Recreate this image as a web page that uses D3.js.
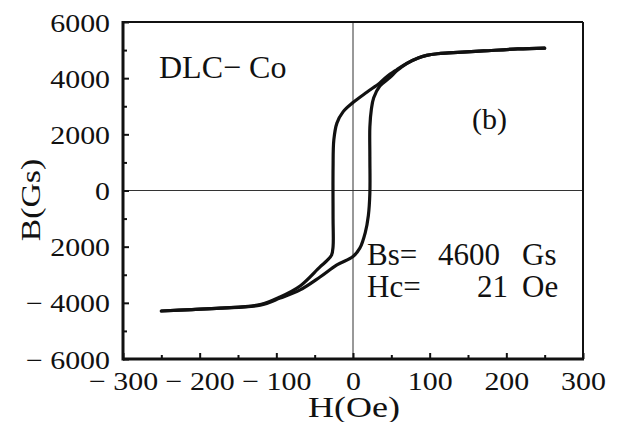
<!DOCTYPE html>
<html>
<head>
<meta charset="utf-8">
<script src="https://cdn.jsdelivr.net/npm/d3@7"></script>
<style>
  body { margin: 0; background: #fff; }
</style>
</head>
<body>
<div id="chart"></div>
<script>
var svgWidth = 620;
var svgHeight = 422;
var fontFam = "'Liberation Serif'";

// tick values and the labels as printed
var xTicks = [-300, -200, -100, 0, 100, 200, 300];
var xTickLabels = ["− 300", "− 200", "− 100", "0", "100", "200", "300"];
var xMinorTicks = [-250, -150, -50, 50, 150, 250];
var yTicks = [-6000, -4000, -2000, 0, 2000, 4000, 6000];
var yTickLabels = ["− 6000", "− 4000", "2000", "0", "2000", "4000", "6000"];
var yMinorTicks = [-5000, -3000, -1000, 1000, 3000, 5000];

// descending branch (H from +250 to -250)
var descH = [250, 215, 170, 125, 110, 96, 85, 70, 57, 44, 35, 18, 0, -13, -21, -25, -26, -26, -26, -28, -34, -43, -69, -95, -121, -173, -210, -250];
var descB = [5070, 5040, 4970, 4900, 4870, 4810, 4720, 4530, 4300, 4050, 3830, 3500, 3130, 2800, 2400, 1800, 800, -1000, -2000, -2300, -2500, -2720, -3400, -3790, -4060, -4190, -4240, -4290];

// ascending branch (H from -250 to +250)
var ascH = [-250, -210, -173, -121, -95, -69, -43, -21, 0, 9, 16, 20, 22, 22, 22, 24, 27, 35, 48, 57, 70, 85, 96, 110, 125, 170, 215, 250];
var ascB = [-4290, -4240, -4190, -4080, -3830, -3540, -3080, -2650, -2350, -2050, -1500, -900, -90, 1200, 2260, 2900, 3300, 3720, 4020, 4260, 4520, 4720, 4810, 4870, 4900, 4970, 5040, 5070];

var x = d3.scaleLinear().domain([-300, 300]).range([123, 583]);
var y = d3.scaleLinear().domain([-6000, 6000]).range([359, 22]);

var svg = d3.select("#chart")
  .append("svg")
  .attr("width", svgWidth)
  .attr("height", svgHeight);

// zero lines
svg.append("line")
  .attr("x1", x(-300)).attr("x2", x(300))
  .attr("y1", y(0)).attr("y2", y(0))
  .attr("stroke", "#333").attr("stroke-width", 1);
svg.append("line")
  .attr("x1", x(0)).attr("x2", x(0))
  .attr("y1", y(6000)).attr("y2", y(-6000))
  .attr("stroke", "#333").attr("stroke-width", 1);

// bottom axis
var xAxisG = svg.append("g")
  .attr("transform", `translate(0, ${y(-6000)})`)
  .call(d3.axisBottom(x).tickValues(xTicks).tickSize(-6)
    .tickFormat((d, i) => xTickLabels[i]));
svg.append("g")
  .attr("transform", `translate(0, ${y(-6000)})`)
  .call(d3.axisBottom(x).tickValues(xMinorTicks).tickSize(-4).tickFormat(""));

// left axis
var yAxisG = svg.append("g")
  .attr("transform", `translate(${x(-300)}, 0)`)
  .call(d3.axisLeft(y).tickValues(yTicks).tickSize(-6)
    .tickFormat((d, i) => yTickLabels[i]));
svg.append("g")
  .attr("transform", `translate(${x(-300)}, 0)`)
  .call(d3.axisLeft(y).tickValues(yMinorTicks).tickSize(-4).tickFormat(""));

// no letter-spacing here: the renderer swaps to a sans font when it is set,
// so the wide print look comes from a horizontal stretch instead
var sx = 1.15;
svg.selectAll("g").attr("font-family", null).attr("font-size", null);
svg.selectAll(".domain").remove();
svg.selectAll(".tick line").attr("stroke", "#111").attr("stroke-width", 2);
svg.selectAll(".tick text")
  .style("font-family", fontFam)
  .style("font-size", "26px")
  .attr("fill", "#111");
xAxisG.selectAll(".tick text")
  .attr("x", 0).attr("y", 31).attr("dy", 0)
  .attr("transform", `scale(${sx},1)`);
yAxisG.selectAll(".tick text")
  .attr("x", -13 / sx).attr("y", 9).attr("dy", 0)
  .attr("transform", `scale(${sx},1)`);

// frame
svg.append("line").attr("x1", x(-300)).attr("x2", x(300)).attr("y1", y(6000)).attr("y2", y(6000))
  .attr("stroke", "#111").attr("stroke-width", 2);
svg.append("line").attr("x1", x(300)).attr("x2", x(300)).attr("y1", y(6000)).attr("y2", y(-6000))
  .attr("stroke", "#111").attr("stroke-width", 2);
svg.append("line").attr("x1", x(-300)).attr("x2", x(-300)).attr("y1", y(6000) - 1).attr("y2", y(-6000) + 1.5)
  .attr("stroke", "#111").attr("stroke-width", 3);
svg.append("line").attr("x1", x(-300)).attr("x2", x(300) + 1).attr("y1", y(-6000)).attr("y2", y(-6000))
  .attr("stroke", "#111").attr("stroke-width", 3);

// loop
var line = d3.line()
  .x(d => x(d[0]))
  .y(d => y(d[1]))
  .curve(d3.curveCatmullRom.alpha(0.5));

var branches = [
  d3.zip(descH, descB),
  d3.zip(ascH, ascB)
];

svg.selectAll(".branch")
  .data(branches)
  .enter()
  .append("path")
  .attr("class", "branch")
  .attr("d", line)
  .attr("fill", "none")
  .attr("stroke", "#111")
  .attr("stroke-width", 3.2)
  .attr("stroke-linecap", "round")
  .attr("stroke-linejoin", "round");

function label(px, py, size, str) {
  return svg.append("text")
    .attr("x", px).attr("y", py)
    .attr("fill", "#111")
    .style("font-family", fontFam)
    .style("font-size", size + "px")
    .text(str);
}

// axis titles
label(0, 0, 27, "B(Gs)")
  .attr("transform", "translate(40, 200) rotate(-90) scale(1.25,1)")
  .attr("text-anchor", "middle");
label(0, 0, 30, "H(Oe)")
  .attr("transform", "translate(354, 417) scale(1.2,1)")
  .attr("text-anchor", "middle");

// annotations
label(159, 78, 32, "DLC− Co");
label(472, 129, 30, "(b)");

var bs = label(367, 265, 31, "");
bs.append("tspan").attr("x", 367).text("Bs= ");
bs.append("tspan").attr("x", 438).text("4600 ");
bs.append("tspan").attr("x", 522).text("Gs");

var hc = label(367, 297, 31, "");
hc.append("tspan").attr("x", 367).text("Hc= ");
hc.append("tspan").attr("x", 477).text("21 ");
hc.append("tspan").attr("x", 522).text("Oe");
</script>
</body>
</html>
